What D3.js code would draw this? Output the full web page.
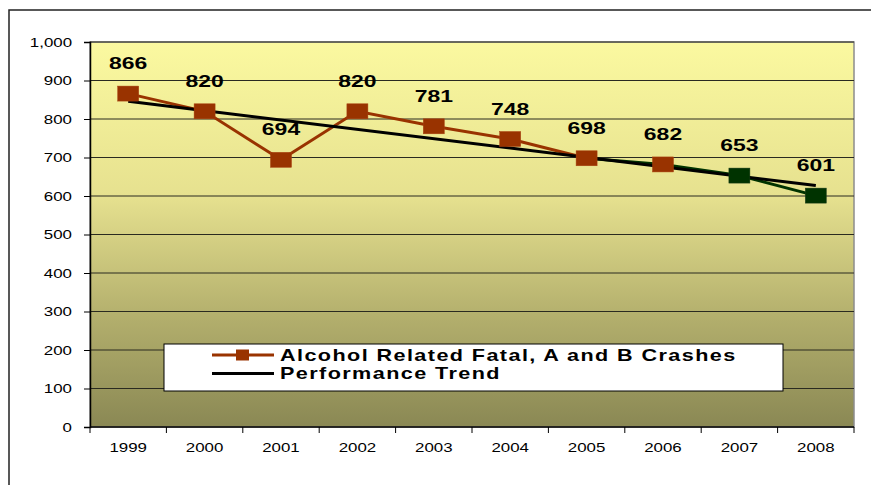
<!DOCTYPE html>
<html>
<head>
<meta charset="utf-8">
<script src="https://cdn.jsdelivr.net/npm/d3@7"></script>
<style>
 body { margin: 0; background: #fff; }
 text { font-family: Arial, "Liberation Sans", sans-serif; }
</style>
</head>
<body>
<svg id="chart" width="871" height="485"></svg>
<script>
 // data
 let years = ["1999","2000","2001","2002","2003","2004","2005","2006","2007","2008"]
 let crashes = [866, 820, 694, 820, 781, 748, 698, 682, 653, 601]
 let trendYears = ["1999", "2008"]
 let trendValues = [846, 627]
 let yTicks = [0,100,200,300,400,500,600,700,800,900,1000]
 let greenFrom = 7   // segments from 2006 on drawn in green
 let legendLabels = ["Alcohol Related Fatal, A and B Crashes", "Performance Trend"]

 let plotLeft = 90, plotRight = 854, plotTop = 42, plotBottom = 427
 let sx = 1.35   // the picture's text is stretched sideways

 var svg = d3.select("#chart")

 var x = d3.scaleBand().domain(years).range([plotLeft, plotRight])
 var y = d3.scaleLinear().domain([0, 1000]).range([plotBottom, plotTop])
 var cx = function(yr){ return x(yr) + x.bandwidth()/2 }

 function stretchText(g, tx, ty, str, size, weight, anchor){
      return g.append("text")
           .attr("transform", `translate(${tx},${ty}) scale(${sx},1)`)
           .attr("text-anchor", anchor)
           .attr("font-size", size)
           .attr("font-weight", weight)
           .attr("fill", "#000")
           .text(str)
 }

 // outer frame
 svg.append("rect").attr("x", 9).attr("y", 10).attr("width", 900).attr("height", 500)
      .attr("fill", "none").attr("stroke", "#222").attr("stroke-width", 1.5)

 // plot background
 var defs = svg.append("defs")
 var grad = defs.append("linearGradient").attr("id", "bg").attr("x1", 0).attr("y1", 0).attr("x2", 0).attr("y2", 1)
 grad.append("stop").attr("offset", "0%").attr("stop-color", "#fbf9a0")
 grad.append("stop").attr("offset", "40%").attr("stop-color", "#e6e18f")
 grad.append("stop").attr("offset", "72%").attr("stop-color", "#b2ae6c")
 grad.append("stop").attr("offset", "100%").attr("stop-color", "#8a8854")

 svg.append("rect").attr("x", plotLeft).attr("y", plotTop).attr("width", plotRight-plotLeft).attr("height", plotBottom-plotTop)
      .attr("fill", "url(#bg)").attr("stroke", "#8c8c8c").attr("stroke-width", 1.5)

 // gridlines
 svg.append("g").selectAll("line").data(yTicks.filter(d => d > 0)).enter().append("line")
      .attr("x1", plotLeft).attr("x2", plotRight)
      .attr("y1", d => y(d)).attr("y2", d => y(d))
      .attr("stroke", "#2a2a20").attr("stroke-width", 1)

 // y axis
 var yAxis = svg.append("g").attr("transform", `translate(${plotLeft},0)`)
      .call(d3.axisLeft(y).tickValues(yTicks).tickSize(6).tickFormat(""))
 yAxis.select(".domain").attr("stroke", "#000").attr("stroke-width", 1.5)
 yAxis.selectAll(".tick line").attr("stroke", "#000")
 var ylab = svg.append("g")
 yTicks.forEach(function(t){
      stretchText(ylab, 72, y(t) + 4.5, d3.format(",")(t), 12.5, "normal", "end")
 })

 // x axis, ticks on band boundaries
 var xAxis = svg.append("g").attr("transform", `translate(0,${plotBottom})`)
 xAxis.append("line").attr("x1", plotLeft).attr("x2", plotRight).attr("y1", 0).attr("y2", 0)
      .attr("stroke", "#000").attr("stroke-width", 1.5)
 xAxis.selectAll("line.tk").data(years.concat(["end"])).enter().append("line")
      .attr("class", "tk")
      .attr("x1", (d, i) => i < years.length ? x(d) : plotRight)
      .attr("x2", (d, i) => i < years.length ? x(d) : plotRight)
      .attr("y1", 0).attr("y2", 6).attr("stroke", "#000")
 var xlab = svg.append("g")
 years.forEach(function(yr){
      stretchText(xlab, cx(yr), 452, yr, 12.5, "normal", "middle")
 })

 // series line
 var pts = years.map((yr, i) => ({ yr: yr, v: crashes[i], i: i }))
 var lineGen = d3.line().x(d => cx(d.yr)).y(d => y(d.v))
 svg.append("path").datum(pts.slice(0, greenFrom))
      .attr("d", lineGen).attr("fill", "none").attr("stroke", "#993300").attr("stroke-width", 3)
 svg.append("path").datum(pts.slice(greenFrom - 1))
      .attr("d", lineGen).attr("fill", "none").attr("stroke", "#003300").attr("stroke-width", 3)

 // trend
 var trendPts = trendYears.map((yr, i) => ({ yr: yr, v: trendValues[i] }))
 svg.append("path").datum(trendPts).attr("d", lineGen)
      .attr("fill", "none").attr("stroke", "#000").attr("stroke-width", 3)

 // markers
 svg.append("g").selectAll("rect").data(pts).enter().append("rect")
      .attr("x", d => cx(d.yr) - 10.5).attr("y", d => y(d.v) - 7.5)
      .attr("width", 21).attr("height", 15)
      .attr("fill", d => d.i >= 8 ? "#003300" : "#993300")
      .attr("stroke", d => d.i >= 8 ? "#1a3a1a" : "#a84010").attr("stroke-width", 0.5)

 // value labels
 var vlab = svg.append("g")
 pts.forEach(function(d){
      stretchText(vlab, cx(d.yr), y(d.v) - 24.5, d.v, 17, "bold", "middle")
 })

 // legend
 var lg = svg.append("g")
 lg.append("rect").attr("x", 164).attr("y", 344).attr("width", 619).attr("height", 47)
      .attr("fill", "#fff").attr("stroke", "#000").attr("stroke-width", 1)
 lg.append("line").attr("x1", 212).attr("x2", 274).attr("y1", 355).attr("y2", 355)
      .attr("stroke", "#993300").attr("stroke-width", 3)
 lg.append("rect").attr("x", 236).attr("y", 349.5).attr("width", 13).attr("height", 11).attr("fill", "#993300")
 lg.append("line").attr("x1", 212).attr("x2", 274).attr("y1", 373.5).attr("y2", 373.5)
      .attr("stroke", "#000").attr("stroke-width", 3)
 stretchText(lg, 280, 361, legendLabels[0], 16, "bold", "start").attr("letter-spacing", 1.05)
 stretchText(lg, 280, 379, legendLabels[1], 16, "bold", "start").attr("letter-spacing", 1.05)
</script>
</body>
</html>
